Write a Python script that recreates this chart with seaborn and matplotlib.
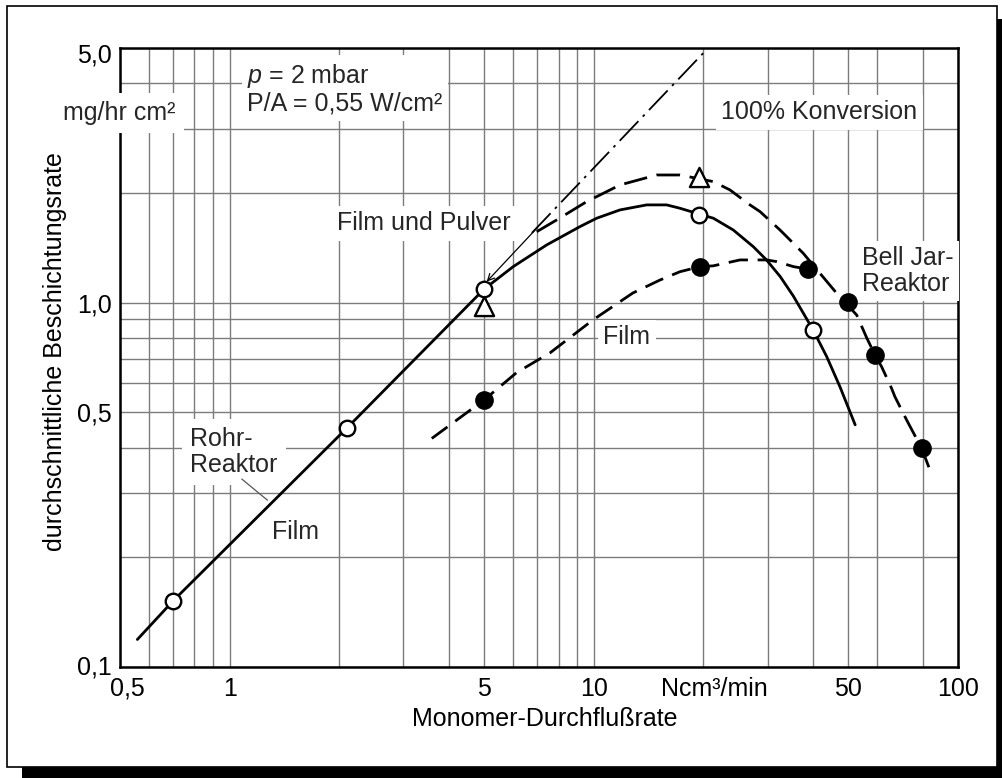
import matplotlib
matplotlib.use("Agg")
import matplotlib.pyplot as plt
import seaborn as sns
from matplotlib.patches import Rectangle
from matplotlib.ticker import FixedLocator, NullFormatter
from matplotlib.transforms import ScaledTranslation

# ---------------- data ----------------
# Rohr-Reaktor, Film (solid straight line + open circles)
rohr_x = [0.558, 0.7, 2.1, 5.0]
rohr_y = [0.119, 0.152, 0.453, 1.09]
rohr_pts_x = [0.7, 2.1, 5.0]
rohr_pts_y = [0.152, 0.453, 1.09]

# Film und Pulver (solid curve + open circles)
fp_x = [5.0, 6.01, 7.42, 9.16, 10.18, 11.8, 13.97, 15.85, 17.24, 19.5, 21.3,
        24.15, 27.4, 29.8, 32.5, 35.3, 40.0, 43.6, 47.4, 52.2]
fp_y = [1.09, 1.256, 1.44, 1.617, 1.705, 1.797, 1.855, 1.855, 1.816, 1.75, 1.705,
        1.583, 1.425, 1.31, 1.179, 1.043, 0.842, 0.711, 0.588, 0.462]
fp_pts_x = [19.5, 40.0]
fp_pts_y = [1.74, 0.842]

# Upper dashed curve (triangles) continuing into Bell Jar-Reaktor
tri_x = [6.97, 7.91, 9.56, 11.8, 14.88, 17.24, 21.28, 23.65, 26.84, 28.6, 32.45, 33.85,
         37.59, 41.78, 46.44, 52.7, 56.2, 59.15, 61.7, 65.7, 67.1, 72.3, 79.5, 84.7]
tri_y = [1.566, 1.687, 1.894, 2.104, 2.241, 2.241, 2.149, 2.039, 1.855, 1.778, 1.583, 1.518,
         1.366, 1.204, 1.061, 0.925, 0.799, 0.719, 0.667, 0.582, 0.552, 0.476, 0.398, 0.337]
tri_pts_x = [5.0, 19.5]
tri_pts_y = [0.98, 2.21]

# Lower dashed curve (Film, filled circles)
film_x = [3.59, 5.0, 6.14, 7.58, 9.95, 12.8, 15.2, 17.24, 19.6, 21.28, 25.2, 29.84, 31.8, 35.3, 38.8]
film_y = [0.424, 0.541, 0.643, 0.728, 0.897, 1.063, 1.154, 1.216, 1.256, 1.262, 1.31, 1.31,
          1.296, 1.256, 1.235]
filled_x = [5.0, 19.6, 38.8, 50.0, 59.15, 79.5]
filled_y = [0.541, 1.256, 1.235, 1.006, 0.719, 0.398]

# 100% Konversion (dash-dot line)
conv_x = [6.76, 20.6]
conv_y = [1.554, 5.0]

# axis ticks
xticks = [0.5, 1, 5, 10, 20, 50, 100]
xticklabels = ["0,5", "1", "5", "10", "Ncm³/min", "50", "100"]
xminor = [0.6, 0.7, 0.8, 0.9, 2, 3, 4, 6, 7, 8, 9, 30, 40, 60, 80]
yticks = [0.1, 0.5, 1.0, 5.0]
yticklabels = ["0,1", "0,5", "1,0", "5,0"]
yminor = [0.2, 0.3, 0.4, 0.6, 0.7, 0.8, 0.9, 2, 3, 4]

# ---------------- style ----------------
sns.set_theme(style="white")
plt.rcParams["font.family"] = ["Liberation Sans", "DejaVu Sans"]
plt.rcParams["mathtext.fontset"] = "custom"
plt.rcParams["mathtext.it"] = "Liberation Sans:italic"
plt.rcParams["mathtext.rm"] = "Liberation Sans"
FS = 18

fig = plt.figure(figsize=(10.02, 7.78), dpi=100, facecolor="white")

# outer frame with drop shadow
fig.patches.append(Rectangle((22 / 1002, -0.1), 1.2, 1 - 19 / 778 + 0.1,
                             transform=fig.transFigure, facecolor="black",
                             edgecolor="none", zorder=-3))
fig.patches.append(Rectangle((7 / 1002, 11 / 778), 990 / 1002, 761 / 778,
                             transform=fig.transFigure, facecolor="white",
                             edgecolor="black", lw=1.2, zorder=-2))

L, R, B, T = 120, 958, 667, 48
ax = fig.add_axes([L / 1002, (778 - B) / 778, (R - L) / 1002, (B - T) / 778])
ax.set_facecolor("white")
ax.set_xscale("log")
ax.set_yscale("log")
ax.set_xlim(0.5, 100)
ax.set_ylim(0.1, 5.0)

# grid
ax.set_xticks(xticks, xticklabels)
ax.set_yticks(yticks, yticklabels)
ax.xaxis.set_minor_locator(FixedLocator(xminor))
ax.yaxis.set_minor_locator(FixedLocator(yminor))
ax.xaxis.set_minor_formatter(NullFormatter())
ax.yaxis.set_minor_formatter(NullFormatter())
ax.set_axisbelow(True)
ax.grid(True, which="both", color="#7c7c7c", lw=1.0)
ax.tick_params(which="both", length=0, labelsize=FS, colors="black")
ax.tick_params(axis="x", pad=7)
ax.tick_params(axis="y", pad=6)
for s in ax.spines.values():
    s.set_visible(True)
    s.set_color("black")
    s.set_linewidth(1.8)

# lines
LW = 2.0
sns.lineplot(x=rohr_x, y=rohr_y, ax=ax, color="black", lw=LW, sort=False, estimator=None, zorder=3)
sns.lineplot(x=fp_x, y=fp_y, ax=ax, color="black", lw=LW, sort=False, estimator=None, zorder=3)
sns.lineplot(x=tri_x, y=tri_y, ax=ax, color="black", lw=LW, sort=False, estimator=None,
             linestyle=(0, (8.5, 3.5)), zorder=3)
sns.lineplot(x=film_x, y=film_y, ax=ax, color="black", lw=LW, sort=False, estimator=None,
             linestyle=(0, (7, 3.5)), zorder=3)
sns.lineplot(x=conv_x, y=conv_y, ax=ax, color="black", lw=1.3, sort=False, estimator=None,
             linestyle=(0, (15, 3.5, 1.5, 3.5)), zorder=3)

# markers
sns.scatterplot(x=rohr_pts_x + fp_pts_x, y=rohr_pts_y + fp_pts_y, ax=ax, marker="o", s=125,
                color="white", edgecolor="black", linewidth=1.7, zorder=5)
sns.scatterplot(x=tri_pts_x, y=tri_pts_y, ax=ax, marker="^", s=190,
                color="white", edgecolor="black", linewidth=1.7, zorder=5)
sns.scatterplot(x=filled_x, y=filled_y, ax=ax, marker="o", s=155,
                color="black", edgecolor="black", linewidth=1.0, zorder=5)

# arrow from conversion line to the point at 5
ax.annotate("", xy=(5.08, 1.142), xytext=(6.97, 1.60),
            arrowprops=dict(arrowstyle="->", color="black", lw=0.9,
                            shrinkA=0, shrinkB=0, mutation_scale=12), zorder=4)
# leader line of Rohr-Reaktor label
ax.plot([1.08, 1.27], [0.328, 0.287], color="#555555", lw=0.9, zorder=3)


def ax_xy(px, py):
    return (px - L) / (R - L), (B - py) / (B - T)


box = dict(facecolor="white", edgecolor="none", pad=4)

x0, y0 = ax_xy(247, 89)
ax.text(x0, y0, "$p$ = 2 mbar\nP/A = 0,55 W/cm²", transform=ax.transAxes, fontsize=FS,
        ha="left", va="center", linespacing=1.1, bbox=box, zorder=2.6)
x0, y0 = ax_xy(337, 223)
ax.text(x0, y0, "Film und Pulver", transform=ax.transAxes, fontsize=FS,
        ha="left", va="center", bbox=box, zorder=2.6)
x0, y0 = ax_xy(721, 112)
ax.text(x0, y0, "100% Konversion", transform=ax.transAxes, fontsize=FS,
        ha="left", va="center", bbox=box, zorder=2.6)
x0, y0 = ax_xy(862, 271)
ax.text(x0, y0, "Bell Jar-\nReaktor", transform=ax.transAxes, fontsize=FS,
        ha="left", va="center", linespacing=1.1, bbox=box, zorder=2.6)
x0, y0 = ax_xy(603, 337)
ax.text(x0, y0, "Film", transform=ax.transAxes, fontsize=FS,
        ha="left", va="center", bbox=box, zorder=2.6)
x0, y0 = ax_xy(190, 452)
ax.text(x0, y0, "Rohr-\nReaktor", transform=ax.transAxes, fontsize=FS,
        ha="left", va="center", linespacing=1.1,
        bbox=dict(facecolor="white", edgecolor="none", pad=6), zorder=2.6)
x0, y0 = ax_xy(272, 532)
ax.text(x0, y0, "Film", transform=ax.transAxes, fontsize=FS,
        ha="left", va="center", zorder=2.6)
x0, y0 = ax_xy(63, 113)
ax.text(x0, y0, "mg/hr cm²", transform=ax.transAxes, fontsize=FS,
        ha="left", va="center", clip_on=False,
        bbox=dict(facecolor="white", edgecolor="none", pad=6), zorder=6)

# axis labels
ax.set_xlabel("Monomer-Durchflußrate", fontsize=FS, color="black")
ax.set_ylabel("durchschnittliche Beschichtungsrate", fontsize=FS, color="black")
ax.xaxis.set_label_coords(0.5066, -0.0646)
ax.yaxis.set_label_coords(-0.063, 0.51)


# fine offsets of some tick labels
def shift(lbl, dx, dy):
    lbl.set_transform(lbl.get_transform() + ScaledTranslation(dx / 100, dy / 100, fig.dpi_scale_trans))


xl = ax.get_xticklabels()
shift(xl[0], 7, 0)
shift(xl[4], 11, 0)
yl = ax.get_yticklabels()
shift(yl[3], 0, -5)
shift(yl[0], 0, 2)

fig.savefig("out.png", dpi=100, facecolor="white")
